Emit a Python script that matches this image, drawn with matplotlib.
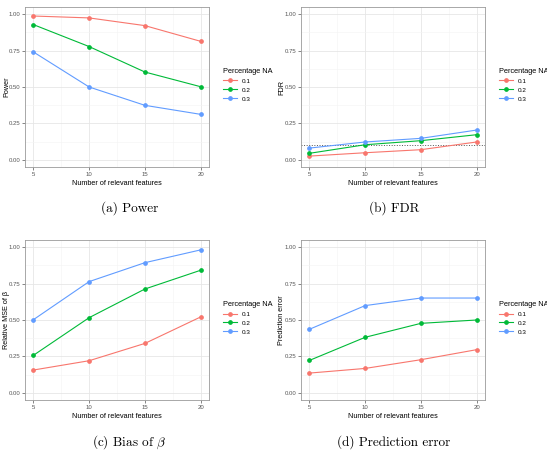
import matplotlib
matplotlib.use("Agg")
import matplotlib.pyplot as plt
from matplotlib.lines import Line2D

plt.rcParams['font.family'] = ['Liberation Sans', 'DejaVu Sans']
plt.rcParams['mathtext.fontset'] = 'cm'

# data
n_features = [5, 10, 15, 20]
pct_na = ["0.1", "0.2", "0.3"]
colors = ["#F8766D", "#00BA38", "#619CFF"]

power = [[0.988, 0.975, 0.922, 0.814],
         [0.929, 0.778, 0.603, 0.502],
         [0.741, 0.500, 0.374, 0.312]]
fdr = [[0.025, 0.048, 0.069, 0.122],
       [0.044, 0.103, 0.131, 0.172],
       [0.080, 0.122, 0.147, 0.204]]
rel_mse = [[0.156, 0.220, 0.339, 0.521],
           [0.257, 0.516, 0.713, 0.842],
           [0.502, 0.764, 0.894, 0.982]]
pred_err = [[0.135, 0.167, 0.227, 0.296],
            [0.222, 0.381, 0.477, 0.500],
            [0.436, 0.599, 0.651, 0.651]]

ylabels = ["Power", "FDR", "Relative MSE of β", "Prediction error"]
captions = ["(a) Power", "(b) FDR", r"(c) Bias of $\beta$", "(d) Prediction error"]
panels = [power, fdr, rel_mse, pred_err]

W, H = 547, 451
fig = plt.figure(figsize=(W / 100, H / 100), dpi=100)

# pixel boxes (left, top, right, bottom)
boxes = [(25, 7, 209, 167), (301, 7, 485, 167),
         (25, 240, 209, 400), (301, 240, 485, 400)]
ylab_x = [10, 285, 10, 285]   # right edge of the rotated y label, px
cap_pos = [(130, 208), (394, 208), (129, 442), (394, 442)]

for k, (l, t, r, b) in enumerate(boxes):
    ax = fig.add_axes([l / W, 1 - b / H, (r - l) / W, (b - t) / H])
    ax.set_xlim(4.25, 20.75)
    ax.set_ylim(-0.05, 1.05)
    ax.set_xticks(n_features)
    ax.set_yticks([0, 0.25, 0.5, 0.75, 1.0])
    ax.set_yticklabels(["0.00", "0.25", "0.50", "0.75", "1.00"])
    ax.set_xticks([7.5, 12.5, 17.5], minor=True)
    ax.set_yticks([0.125, 0.375, 0.625, 0.875], minor=True)
    ax.grid(which='major', color='#E6E6E6', lw=0.6)
    ax.grid(which='minor', color='#F3F3F3', lw=0.4)
    ax.set_axisbelow(True)
    ax.tick_params(which='major', labelsize=4.3, colors='#555555', length=2, width=0.5, pad=1.5)
    ax.tick_params(which='minor', length=0)
    for s in ax.spines.values():
        s.set_color('#9A9A9A')
        s.set_linewidth(0.6)
    if k == 1:
        ax.axhline(0.1, color='#555555', ls=':', lw=0.7)
    for i in range(3):
        ax.plot(n_features, panels[k][i], color=colors[i], lw=0.8,
                marker='o', ms=2.4, label=pct_na[i])
    ax.set_xlabel("Number of relevant features", fontsize=5.2, labelpad=2)
    ax.set_ylabel(ylabels[k], fontsize=5.2)
    ax.yaxis.set_label_coords((ylab_x[k] - l) / (r - l), 0.5)

    handles = [Line2D([0], [0], color=colors[i], lw=0.8, marker='o', ms=2.4)
               for i in range(3)]
    leg = fig.legend(handles, pct_na, title="Percentage NA",
                     loc='upper left',
                     bbox_to_anchor=((r + 8) / W, 1 - (t + 55) / H),
                     frameon=False, fontsize=4.6, title_fontsize=5.3,
                     handlelength=2.2, handletextpad=0.8, labelspacing=0.55)
    leg._legend_box.align = "left"

    cx, cy = cap_pos[k]
    fig.text(cx / W, 1 - cy / H, captions[k], fontsize=9.5, family=['cmr10', 'DejaVu Serif'],
             ha='center', va='center')

fig.savefig("out.png", dpi=100)
